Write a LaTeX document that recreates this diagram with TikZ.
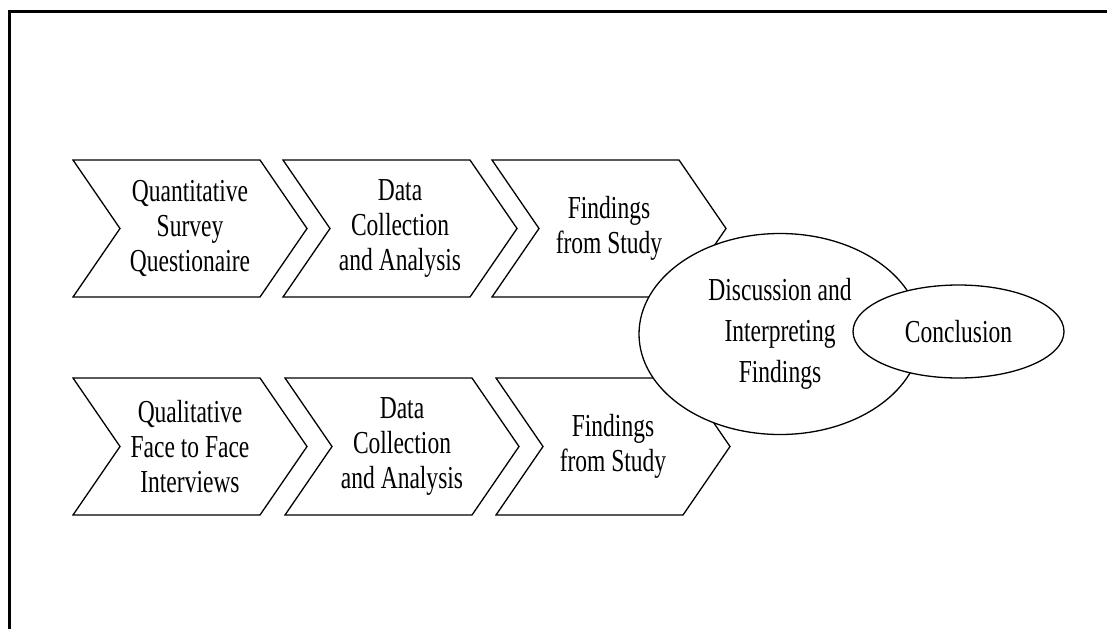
\documentclass[tikz,border=0pt]{standalone}
\usepackage{fontspec}
\newfontfamily\narrowtimes[FakeStretch=0.735]{Liberation Serif}
\usetikzlibrary{shapes.geometric}

\begin{document}
\begin{tikzpicture}
[x=1pt,y=-1pt
,line width=1.3pt
,chevron/.pic={\draw[fill=white] (-117,-68.5) -- (70,-68.5) -- (117,0) -- (70,68.5) -- (-117,68.5) -- (-70,0) -- cycle;}
,every node/.style={font=\narrowtimes\fontsize{32}{35}\selectfont,align=center,inner sep=0pt}
,bubble/.style={ellipse,draw,fill=white}
]

\useasboundingbox (0,0) rectangle (1107,629);
\draw [line width=3pt] (9.5,629) -- (9.5,11) -- (1107,11);

% quantitative strand
\pic at (190,228.5) {chevron};
\pic at (400,228.5) {chevron};
\pic at (609,228.5) {chevron};
\node (qn1) at (190,228.5) {Quantitative\\Survey\\Questionaire};
\node (qn2) at (400,228.5) {Data\\Collection\\and Analysis};
\node (qn3) at (609,228.5) {Findings\\from Study};

% qualitative strand
\pic at (190,446.5) {chevron};
\pic at (402,446.5) {chevron};
\pic at (613,446.5) {chevron};
\node (ql1) at (190,446.5) {Qualitative\\Face to Face\\Interviews};
\node (ql2) at (402,446.5) {Data\\Collection\\and Analysis};
\node (ql3) at (613,446.5) {Findings\\from Study};

\node[bubble,minimum width=282pt,minimum height=201pt,font=\narrowtimes\fontsize{32}{41}\selectfont]
  (disc) at (780,334) {Discussion and\\Interpreting\\Findings};
\node[bubble,minimum width=211pt,minimum height=93pt] (concl) at (958.5,331.5) {Conclusion};

\end{tikzpicture}
\end{document}
